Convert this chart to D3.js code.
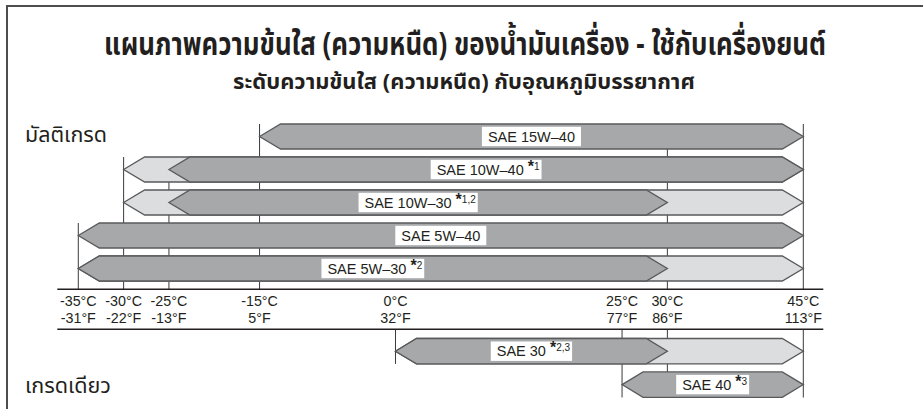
<!DOCTYPE html>
<html><head><meta charset="utf-8">
<script src="https://cdn.jsdelivr.net/npm/d3@7"></script>
<style>
html,body{margin:0;padding:0;background:#fff;}
svg{display:block;}
</style></head>
<body>
<svg id="chart" width="923" height="409"></svg>
<script>
// ---------- data ----------
const titleText = "แผนภาพความข้นใส (ความหนืด) ของน้ำมันเครื่อง - ใช้กับเครื่องยนต์";
const subtitleText = "ระดับความข้นใส (ความหนืด) กับอุณหภูมิบรรยากาศ";
const multiGradeLabel = "มัลติเกรด";
const singleGradeLabel = "เกรดเดียว";

const multiGrades = ["SAE 15W–40", "SAE 10W–40", "SAE 10W–30", "SAE 5W–40", "SAE 5W–30"];
const multiNotes = ["", "1", "1,2", "", "2"];
const multiDarkFrom = [-15, -25, -25, -35, -35];
const multiDarkTo = [45, 45, 30, 45, 30];
const multiLightFrom = [null, -30, -30, null, -35];
const multiLightTo = [null, 45, 45, null, 45];

const singleGrades = ["SAE 30", "SAE 40"];
const singleNotes = ["2,3", "3"];
const singleDarkFrom = [0, 25];
const singleDarkTo = [30, 45];
const singleLightFrom = [0, null];
const singleLightTo = [45, null];

const tickCelsius = [-35, -30, -25, -15, 0, 25, 30, 45];
const tickCLabels = ["-35°C", "-30°C", "-25°C", "-15°C", "0°C", "25°C", "30°C", "45°C"];
const tickFLabels = ["-31°F", "-22°F", "-13°F", "5°F", "32°F", "77°F", "86°F", "113°F"];

// ---------- drawing ----------
const svg = d3.select("#chart");
const DARK = "#a7a8aa", LIGHT = "#dcdddf", EDGE = "#58595b", INK = "#231f20";
const LATIN = "'Liberation Sans', Arial, sans-serif";
const THAI = "'Noto Sans Thai', 'Noto Sans', 'DejaVu Sans', sans-serif";

const x = d3.scaleLinear().domain([-35, 45]).range([78.3, 803.3]);
const yTop = d3.scaleBand().domain(multiGrades).range([120, 285]).paddingInner(8 / 33).paddingOuter(4 / 33);
const yBot = d3.scaleBand().domain(singleGrades).range([334.5, 401.3]).paddingInner(8 / 33.4).paddingOuter(4 / 33.4);

// frame (top and left edges)
svg.append("path").attr("d", "M7,420 V6 H930").attr("fill", "none").attr("stroke", "#4d4d4f").attr("stroke-width", 2);

// text squeezed horizontally to a target width (condensed look)
function fitText(str, cx, baseline, size, weight, targetW, anchor) {
  const t = svg.append("text").attr("x", 0).attr("y", 0).attr("text-anchor", anchor)
    .attr("font-family", THAI).attr("font-weight", weight).attr("font-size", size).attr("fill", INK).text(str);
  const w = t.node().getComputedTextLength();
  const k = targetW / w;
  t.attr("transform", `translate(${cx},${baseline}) scale(${k},1)`);
  return t;
}

fitText(titleText, 465, 55, 32, "bold", 722, "middle");
fitText(subtitleText, 464, 89, 22, "bold", 462, "middle");
fitText(multiGradeLabel, 25, 142, 22, "normal", 82, "start");
fitText(singleGradeLabel, 25, 393, 22, "normal", 86, "start");

// vertical guide lines (drawn under the bars)
const gridTopIndex = {"-35": 3, "-30": 1, "-25": 1, "-15": 0, "30": 0, "45": 0};
const guides = svg.append("g").attr("stroke", "#3a3a3c").attr("stroke-width", 1);
tickCelsius.forEach(t => {
  if (gridTopIndex[t] !== undefined) {
    guides.append("line").attr("x1", x(t)).attr("x2", x(t))
      .attr("y1", yTop(multiGrades[gridTopIndex[t]])).attr("y2", 289);
  }
});
// lower section guides
const lowerGuideBottom = {"0": yBot("SAE 30") + yBot.bandwidth(), "25": 397.5, "30": 397.5, "45": 397.5};
Object.keys(lowerGuideBottom).forEach(k => {
  const t = +k;
  guides.append("line").attr("x1", x(t)).attr("x2", x(t)).attr("y1", 329).attr("y2", lowerGuideBottom[k]);
});

// axis rules
const axisG = svg.append("g").attr("stroke", "#231f20").attr("stroke-width", 1.6);
axisG.append("line").attr("x1", x(-35) - 21).attr("x2", x(45) + 20).attr("y1", 289.3).attr("y2", 289.3);
axisG.append("line").attr("x1", x(-35) - 21).attr("x2", x(45) + 20).attr("y1", 329.3).attr("y2", 329.3);

// tick labels
const lab = svg.append("g").attr("font-family", LATIN).attr("font-size", 14.3).attr("fill", INK).attr("text-anchor", "middle");
tickCelsius.forEach((t, i) => {
  lab.append("text").attr("x", x(t)).attr("y", 306).text(tickCLabels[i]);
  lab.append("text").attr("x", x(t)).attr("y", 323).text(tickFLabels[i]);
});

// arrow bar shape
const HEAD = 21;
function arrow(x0, x1, y0, h) {
  const ym = y0 + h / 2;
  return `M${x0},${ym} L${x0 + HEAD},${y0} L${x1 - HEAD},${y0} L${x1},${ym} L${x1 - HEAD},${y0 + h} L${x0 + HEAD},${y0 + h} Z`;
}

function drawRows(grades, notes, dFrom, dTo, lFrom, lTo, yScale) {
  const g = svg.append("g");
  grades.forEach((name, i) => {
    const y0 = yScale(name), h = yScale.bandwidth();
    if (lFrom[i] !== null) {
      g.append("path").attr("d", arrow(x(lFrom[i]), x(lTo[i]), y0, h))
        .attr("fill", LIGHT).attr("stroke", EDGE).attr("stroke-width", 1.3).attr("stroke-linejoin", "miter");
    }
    g.append("path").attr("d", arrow(x(dFrom[i]), x(dTo[i]), y0, h))
      .attr("fill", DARK).attr("stroke", EDGE).attr("stroke-width", 1.3).attr("stroke-linejoin", "miter");

    const cx = (x(dFrom[i]) + x(dTo[i])) / 2, cy = y0 + h / 2;
    const lg = g.append("g");
    const txt = lg.append("text").attr("font-family", LATIN).attr("font-size", 14.5).attr("fill", INK)
      .attr("x", 0).attr("y", cy + 5.2);
    txt.append("tspan").text(name);
    if (notes[i]) {
      txt.append("tspan").attr("font-size", 16).attr("font-weight", "bold").attr("dx", 4).attr("dy", -3).text("*");
      txt.append("tspan").attr("font-size", 10).attr("dy", -2).text(notes[i]);
    }
    const w = txt.node().getComputedTextLength();
    txt.attr("x", cx - w / 2);
    lg.insert("rect", "text").attr("x", cx - w / 2 - 6).attr("y", cy - 9.7).attr("width", w + 12).attr("height", 19.4)
      .attr("fill", "#fff");
  });
}

drawRows(multiGrades, multiNotes, multiDarkFrom, multiDarkTo, multiLightFrom, multiLightTo, yTop);
drawRows(singleGrades, singleNotes, singleDarkFrom, singleDarkTo, singleLightFrom, singleLightTo, yBot);
</script>
</body></html>
